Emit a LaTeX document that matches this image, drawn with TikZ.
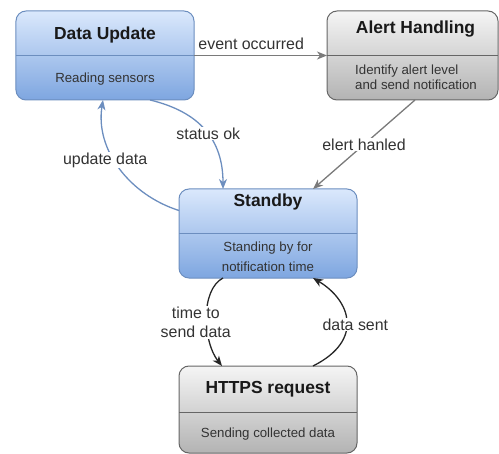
\documentclass[tikz,border=0pt]{standalone}
\usepackage{fontspec}
\setmainfont{Liberation Sans}
\usetikzlibrary{arrows.meta, calc}

\definecolor{blueline}{HTML}{6C8EBF}
\definecolor{bluetop}{HTML}{DAE8FC}
\definecolor{bluebot}{HTML}{7EA6E0}
\definecolor{grayline}{HTML}{666666}
\definecolor{graytop}{HTML}{F5F5F5}
\definecolor{graybot}{HTML}{B3B3B3}
\definecolor{arrowgray}{HTML}{7A7A7A}
\definecolor{subtext}{HTML}{333333}

\begin{document}
\begin{tikzpicture}[x=1bp, y=-1bp]
% Styles
\tikzstyle{bluestate} = [rectangle, rounded corners=10bp, minimum width=178bp, minimum height=89bp, draw=blueline, top color=bluetop, bottom color=bluebot, line width=1bp, outer sep=0pt]
\tikzstyle{graystate} = [rectangle, rounded corners=10bp, minimum width=178bp, minimum height=89bp, draw=grayline, top color=graytop, bottom color=graybot, line width=1bp, outer sep=0pt]
\tikzstyle{title} = [font=\fontsize{17.5}{20}\selectfont\bfseries, text=black!90, inner sep=0pt]
\tikzstyle{subline} = [font=\fontsize{13.3}{15}\selectfont, text=subtext, inner sep=0pt]
\tikzstyle{lbl} = [font=\fontsize{16}{19}\selectfont, text=black!80, fill=white, inner sep=1bp, align=center]
\tikzstyle{grayarrow} = [draw=arrowgray, line width=1.3bp, -{Stealth[length=10bp, width=8bp, inset=3bp]}]
\tikzstyle{bluearrow} = [draw=blueline, line width=1.3bp, -{Stealth[length=10bp, width=8bp, inset=3bp]}]
\tikzstyle{blackarrow} = [draw=black!85, line width=1.3bp, -{Stealth[length=10bp, width=8bp, inset=3bp]}]

\useasboundingbox (0,0) rectangle (499,454);

% Nodes
\node (update) [bluestate] at (105,55.5) {};
\node (alert) [graystate, minimum width=171bp] at (412.5,55.5) {};
\node (standby) [bluestate] at (268,233.5) {};
\node (https) [graystate, minimum height=87bp] at (268,409.5) {};

\draw [blueline, line width=1bp] (update.west |- 0,56) -- (update.east |- 0,56);
\draw [grayline, line width=1bp] (alert.west |- 0,56) -- (alert.east |- 0,56);
\draw [blueline, line width=1bp] (standby.west |- 0,234) -- (standby.east |- 0,234);
\draw [grayline, line width=1bp] (https.west |- 0,412) -- (https.east |- 0,412);

\node (update_title) [title] at (105,35) {Data Update};
\node (update_text) [subline] at (105,79) {Reading sensors};
\node (alert_title) [title] at (415.5,29) {Alert Handling};
\node (alert_text) [subline, align=left] at (416,77.5) {Identify alert level\\and send notification};
\node (standby_title) [title] at (268,202) {Standby};
\node (standby_text) [subline, align=center, font=\fontsize{13.3}{20}\selectfont] at (268,257) {Standing by for\\notification time};
\node (https_title) [title] at (268,389) {HTTPS request};
\node (https_text) [subline] at (268,434) {Sending collected data};

% Arrows
\draw [grayarrow] (update) -- node[lbl, above, pos=0.43, yshift=4bp, fill=none] {event occurred} (alert);
\draw [grayarrow] ($(alert.south)+(2.5,0)$) -- node[lbl] {elert hanled} ($(standby.north)+(45,0)$);
\draw [bluearrow] ($(update.south)+(45,0)$) .. controls (200,112) and (223,140) .. node[lbl, pos=0.5, xshift=3bp, yshift=-3bp] {status ok} ($(standby.north)+(-45,0)$);
\draw [bluearrow] ($(standby.west)+(0,-23)$) .. controls (130,195) and (95,150) .. node[lbl, pos=0.6, xshift=-7bp, yshift=-4bp] {update data} ($(update.south)+(-2,0)$);
\draw [blackarrow] ($(standby.south)+(-45,0)$) .. controls (200,290) and (203,342) .. node[lbl, pos=0.5, xshift=-11bp, yshift=-5bp] {time to\\send data} ($(https.north)+(-46,0)$);
\draw [blackarrow] ($(https.north)+(45,0)$) .. controls (365,340) and (350,300) .. node[lbl, pos=0.5, xshift=9bp, yshift=-4bp] {data sent} ($(standby.south)+(45,0)$);
\end{tikzpicture}
\end{document}
